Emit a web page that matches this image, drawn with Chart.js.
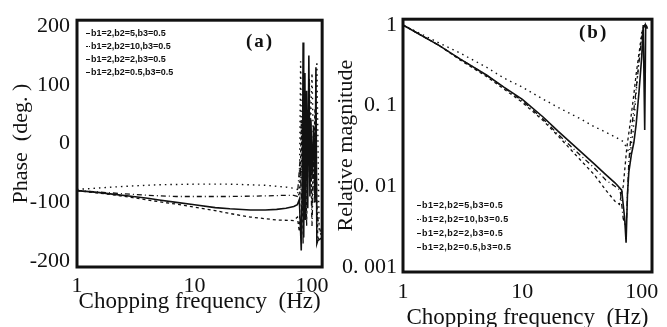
<!DOCTYPE html>
<html>
<head>
<meta charset="utf-8">
<script src="https://cdn.jsdelivr.net/npm/chart.js@4.4.0/dist/chart.umd.min.js"></script>
<style>
  body { margin: 0; background: #fff; width: 667px; height: 327px; overflow: hidden; position: relative; }
  .panel { position: absolute; top: 0; height: 327px; }
  .tag { position: absolute; font-family: "Liberation Serif", serif; font-weight: bold; font-size: 19px; letter-spacing: 2px; color: #111; }
  .legend { position: absolute; font-family: "Liberation Sans", sans-serif; font-weight: bold; font-size: 9px; color: #111; line-height: 13px; white-space: nowrap; }
  .legend span.s { display: inline-block; width: 4px; vertical-align: middle; margin-right: 1px; border-top: 1px solid #111; }
</style>
</head>
<body>
<div class="panel" style="left:0;width:335px;"><canvas id="phaseChart" width="335" height="327"></canvas></div>
<div class="panel" style="left:335px;width:332px;"><canvas id="magChart" width="332" height="327"></canvas></div>
<div class="tag" style="left:246px;top:30px;">(a)</div>
<div class="tag" style="left:579px;top:21px;">(b)</div>
<div class="legend" id="legA" style="left:86px;top:27px;"></div>
<div class="legend" id="legB" style="left:417px;top:198px;letter-spacing:0.4px;line-height:14px;"></div>
<script>
// 시리즈 이름
const seriesNames = ['b1=2,b2=5,b3=0.5', 'b1=2,b2=10,b3=0.5', 'b1=2,b2=2,b3=0.5', 'b1=2,b2=0.5,b3=0.5'];

// (a) 위상
const phaseFreqB5 = [1, 1.5, 2, 3, 4, 5, 7, 10, 15, 20, 30, 40, 50, 60, 70, 75, 78, 80, 81, 83, 84, 85, 87, 88, 90, 92, 94, 96, 98, 100, 103, 106, 108, 110, 112, 116, 122];
const phaseB5 = [-80, -83, -86, -90, -93, -96, -100, -104, -109, -111, -113, -113, -112, -110, -107, -104, -95, -150, -182, -40, 172, -160, 120, -130, 90, -110, 150, -90, 40, -60, 30, -100, 130, -170, -165, -163, -160];
const phaseFreqB10 = [1, 2, 3, 5, 10, 20, 40, 60, 70, 75, 78, 80, 82, 85, 88, 91, 95, 100, 105, 110, 115, 120];
const phaseB10 = [-78, -74, -72, -70, -69, -69, -71, -74, -76, -78, -90, 140, -60, 100, -80, 60, -40, 120, -100, 140, -150, -155];
const phaseFreqB2 = [1, 2, 4, 7, 10, 20, 40, 60, 70, 75, 79, 82, 86, 90, 95, 100, 105, 110, 118];
const phaseB2 = [-80, -84, -88, -90, -90, -90, -89, -88, -88, -90, -30, -120, 80, -60, 50, -140, 20, -120, -150];
const phaseFreqB05 = [1, 2, 3, 5, 7, 10, 15, 20, 30, 50, 70, 75, 78, 81, 84, 87, 90, 95, 100, 106, 112, 120];
const phaseB05 = [-80, -87, -92, -99, -103, -108, -114, -119, -125, -130, -131, -125, -150, 40, -170, 90, -140, 110, -110, 60, -160, -165];

// (b) 상대 크기
const magFreqB5 = [1, 2, 3, 5, 7, 10, 15, 20, 30, 40, 50, 60, 68, 72, 74, 76, 78, 82, 86, 90, 95, 100, 103, 106, 108, 112];
const magB5 = [1, 0.56, 0.38, 0.24, 0.17, 0.12, 0.072, 0.048, 0.028, 0.019, 0.014, 0.011, 0.009, 0.004, 0.002, 0.008, 0.015, 0.025, 0.035, 0.06, 0.15, 0.4, 1, 0.05, 1, 0.9];
const magFreqB10 = [1, 2, 3, 5, 7, 10, 15, 20, 30, 40, 50, 60, 70, 75, 80, 85, 90, 95, 100, 105, 110];
const magB10 = [1, 0.6, 0.45, 0.3, 0.22, 0.17, 0.12, 0.095, 0.07, 0.055, 0.047, 0.041, 0.036, 0.03, 0.025, 0.05, 0.15, 0.4, 0.8, 1, 0.95];
const magFreqB2 = [1, 2, 3, 5, 10, 15, 20, 30, 40, 50, 60, 66, 70, 74, 78, 82, 88, 94, 100, 106, 112];
const magB2 = [1, 0.56, 0.38, 0.24, 0.115, 0.068, 0.044, 0.025, 0.017, 0.012, 0.01, 0.009, 0.004, 0.003, 0.02, 0.05, 0.12, 0.3, 0.7, 1, 0.95];
const magFreqB05 = [1, 2, 3, 5, 10, 15, 20, 30, 40, 50, 60, 65, 70, 75, 80, 85, 90, 96, 102, 108];
const magB05 = [1, 0.56, 0.37, 0.23, 0.11, 0.065, 0.042, 0.022, 0.014, 0.009, 0.0065, 0.006, 0.01, 0.03, 0.06, 0.12, 0.25, 0.5, 0.9, 1];

// 눈금
const freqTicks = [1, 10, 100];
const phaseTicks = [200, 100, 0, -100, -200];
const magTicks = [1, 0.1, 0.01, 0.001];
const magTickLabels = ['1', '0. 1', '0. 01', '0. 001'];

const dashStyles = [[], [1.5, 4], [5, 3, 1, 3], [3, 3]];
const lineWidths = [1.6, 1.4, 1.3, 1.3];
const serif = '"Liberation Serif", "DejaVu Serif", serif';

function pts(xs, ys) {
    return xs.map((x, i) => ({ x: x, y: ys[i] }));
}

function makeSets(groups) {
    return groups.map((g, i) => ({
        label: seriesNames[i],
        data: pts(g[0], g[1]),
        borderColor: '#111',
        borderWidth: lineWidths[i],
        borderDash: dashStyles[i],
        pointRadius: 0,
        tension: 0
    }));
}

// 테두리
const framePlugin = {
    id: 'frame',
    afterDraw(chart) {
        const a = chart.chartArea, ctx = chart.ctx;
        ctx.save();
        ctx.strokeStyle = '#111';
        ctx.lineWidth = 3;
        ctx.strokeRect(a.left, a.top, a.right - a.left, a.bottom - a.top);
        ctx.restore();
    }
};

function legendHtml(el) {
    const styles = ['solid', 'dotted', 'dashed', 'dashed'];
    el.innerHTML = seriesNames.map((n, i) =>
        '<div><span class="s" style="border-top-style:' + styles[i] + '"></span>' + n + '</div>').join('');
}
legendHtml(document.getElementById('legA'));
legendHtml(document.getElementById('legB'));

function xAxis(height, tickPad, titlePad) {
    return {
        type: 'logarithmic',
        min: 1,
        max: 122,
        grid: { display: false, drawTicks: false },
        border: { display: false },
        afterBuildTicks: s => { s.ticks = freqTicks.map(v => ({ value: v })); },
        afterFit: s => { s.height = height; },
        ticks: {
            color: '#111', font: { family: serif, size: 22 }, padding: tickPad,
            maxRotation: 0, autoSkip: false,
            callback: v => String(v)
        },
        title: {
            display: true, text: 'Chopping frequency  (Hz)', color: '#111',
            font: { family: serif, size: 23 }, padding: { top: 0, bottom: titlePad }
        }
    };
}

if (document.getElementById('phaseChart')) {
    const phaseCtx = document.getElementById('phaseChart').getContext('2d');
    const phaseChart = new Chart(phaseCtx, {
        type: 'line',
        data: {
            datasets: makeSets([
                [phaseFreqB5, phaseB5], [phaseFreqB10, phaseB10],
                [phaseFreqB2, phaseB2], [phaseFreqB05, phaseB05]
            ])
        },
        options: {
            responsive: false,
            animation: false,
            layout: { padding: { left: 0, top: 15, right: 12, bottom: 0 } },
            plugins: { legend: { display: false }, tooltip: { enabled: false } },
            scales: {
                x: xAxis(60, 6, 11),
                y: {
                    min: -210,
                    max: 210,
                    grid: { display: false, drawTicks: false },
                    border: { display: false },
                    afterBuildTicks: s => { s.ticks = phaseTicks.map(v => ({ value: v })); },
                    afterFit: s => { s.width = 77; },
                    ticks: { color: '#111', font: { family: serif, size: 22 }, padding: 7 },
                    title: {
                        display: true, text: 'Phase  (deg. )', color: '#111',
                        font: { family: serif, size: 22 }, padding: { top: 8, bottom: 0 }
                    }
                }
            }
        },
        plugins: [framePlugin]
    });
}

if (document.getElementById('magChart')) {
    const magCtx = document.getElementById('magChart').getContext('2d');
    const magChart = new Chart(magCtx, {
        type: 'line',
        data: {
            datasets: makeSets([
                [magFreqB5, magB5], [magFreqB10, magB10],
                [magFreqB2, magB2], [magFreqB05, magB05]
            ])
        },
        options: {
            responsive: false,
            animation: false,
            layout: { padding: { left: 0, top: 7, right: 15, bottom: 0 } },
            plugins: { legend: { display: false }, tooltip: { enabled: false } },
            scales: {
                x: xAxis(55, 7, -5),
                y: {
                    type: 'logarithmic',
                    min: 0.00087,
                    max: 1.18,
                    grid: { display: false, drawTicks: false },
                    border: { display: false },
                    afterBuildTicks: s => { s.ticks = magTicks.map(v => ({ value: v })); },
                    afterFit: s => { s.width = 68; },
                    ticks: {
                        color: '#111', font: { family: serif, size: 22 }, padding: 6,
                        callback: v => magTickLabels[magTicks.indexOf(v)]
                    },
                    title: {
                        display: true, text: 'Relative magnitude', color: '#111',
                        font: { family: serif, size: 22 }, padding: { top: -2, bottom: 0 }
                    }
                }
            }
        },
        plugins: [framePlugin]
    });
}
</script>
</body>
</html>
